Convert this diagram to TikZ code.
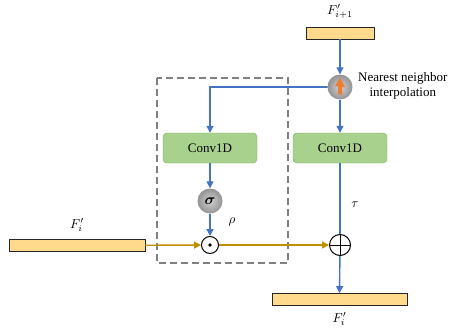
\documentclass[tikz,border=0pt]{standalone}
\usepackage{amsmath, bm}
\usepackage{graphicx}
\usepackage{fontspec}
\setmainfont{Liberation Serif}
\usepackage{tikz}
\usetikzlibrary{positioning, arrows.meta}

\definecolor{flowblue}{HTML}{4472C4}
\definecolor{flowgold}{HTML}{BF9000}
\definecolor{featfill}{HTML}{FFD98C}
\definecolor{convfill}{HTML}{A9D18E}
\definecolor{convline}{HTML}{70AD47}
\definecolor{uporange}{HTML}{ED7D31}

\begin{document}
\begin{tikzpicture}[x=1pt, y=-1pt,
	feat/.style={draw=black!85, fill=featfill, line width=0.8pt, minimum height=12pt, inner sep=0pt},
	conv/.style={draw=convline, fill=convfill, rounded corners=4pt, minimum width=94pt, minimum height=30pt, font=\fontsize{13}{15}\selectfont},
	gate/.style={circle, minimum size=25pt, inner sep=0pt, inner color=gray!35, outer color=gray!85},
	op/.style={circle, draw=black, line width=1pt, fill=white, inner sep=0pt},
	lbl/.style={font=\fontsize{13}{15}\selectfont},
	bflow/.style={draw=flowblue, line width=1.4pt, -{Triangle[width=7pt,length=7pt]}},
	gflow/.style={draw=flowgold, line width=1.4pt, -{Triangle[width=7pt,length=7pt]}}]
	\useasboundingbox (0,0) rectangle (465,329);

	\def\sc{1.3};

	% attention branch
	\draw[gray, line width=1.6pt, dash pattern=on 7pt off 4pt] (157,78) rectangle (288,263);

	\node[feat, minimum width=68pt] (top) at (340,33) {};
	\node[gate] (up) at (340,87) {};
	\fill[uporange] ([shift={(-2,7)}]up.center) -- ++(0,-8) -- ++(-3,0) -- (340,78) -- ++(5,9) -- ++(-3,0) -- ++(0,8) -- cycle;
	\node[lbl, align=center, right=2pt of up, yshift=1pt] (near) {Nearest neighbor\\interpolation};

	\node[conv] (c1) at (210,148) {Conv1D};
	\node[conv] (c2) at (340,148) {Conv1D};
	\node[gate] (sig) at (210,201) {\scalebox{1.5}{$\bm{\sigma}$}};
	\node[op, minimum size=17pt] (mul) at (210,245) {};
	\fill (mul) circle (1.8pt);
	\node[op, minimum size=21pt] (add) at (340,245) {};
	\draw[line width=1pt] (add.north) -- (add.south) (add.west) -- (add.east);

	\node[feat, minimum width=136pt] (fl) at (77,245.5) {};
	\node[feat, minimum width=135pt] (fb) at (339.5,299.5) {};

	\node[above=4pt of top] {\scalebox{\sc}{$F'_{i+1}$}};
	\node[above=4pt of fl] {\scalebox{\sc}{$F'_{i}$}};
	\node[below=3pt of fb] {\scalebox{\sc}{$F'_{i}$}};
	\node (rho) at (232,222) {\scalebox{\sc}{$\rho$}};
	\node (tau) at (355,205) {\scalebox{\sc}{$\tau$}};

	\draw[bflow] (top) -- (up);
	\draw[bflow] (up) -- (c2);
	\draw[bflow] (up.west) -| (c1.north);
	\draw[bflow] (c1) -- (sig);
	\draw[bflow] (sig) -- (mul);
	\draw[draw=flowblue, line width=1.4pt] (c2) -- (add);
	\draw[bflow] (add) -- (fb);
	\draw[gflow] (fl) -- (mul);
	\draw[gflow] (mul) -- (add);
\end{tikzpicture}
\end{document}
